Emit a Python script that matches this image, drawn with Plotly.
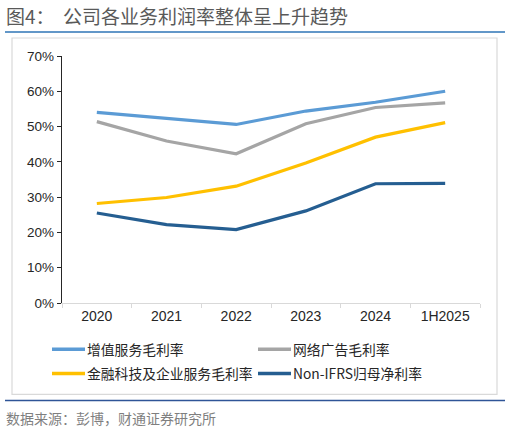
import plotly.graph_objects as go

# 年份
years = ["2020", "2021", "2022", "2023", "2024", "1H2025"]

# 各业务利润率
vas_gm = [0.540, 0.524, 0.506, 0.544, 0.569, 0.600]
ads_gm = [0.514, 0.459, 0.423, 0.508, 0.554, 0.567]
fin_gm = [0.282, 0.299, 0.331, 0.397, 0.470, 0.511]
nonifrs_nm = [0.255, 0.222, 0.208, 0.261, 0.338, 0.339]

series_names = ["增值服务毛利率", "网络广告毛利率", "金融科技及企业服务毛利率", "Non-IFRS归母净利率"]
series_colors = ["#5B9BD5", "#A5A5A5", "#FFC000", "#255E91"]

W, H = 510, 432
L, R, T, B = 62, 30, 56, 129.3
PW, PH = W - L - R, H - T - B


def px_x(v):
    return (v - L) / PW


def px_y(v):
    return (H - B - v) / PH


fig = go.Figure()

for name, vals, color in zip(series_names, [vas_gm, ads_gm, fin_gm, nonifrs_nm], series_colors):
    fig.add_trace(go.Scatter(x=years, y=vals, name=name, mode="lines",
                             line=dict(color=color, width=3.2), showlegend=False))

fig.update_layout(
    width=W, height=H,
    paper_bgcolor="white", plot_bgcolor="white",
    margin=dict(l=L, r=R, t=T, b=B),
    showlegend=False,
    font=dict(family="Arial, Liberation Sans", color="#262626"),
)

fig.update_xaxes(type="category", range=[-0.5, 5.5], showline=True, linecolor="#D9D9D9",
                 linewidth=1.2, ticks="outside", tickson="boundaries", ticklen=4,
                 tickcolor="#D9D9D9", showgrid=False, tickfont=dict(size=14, color="#262626"))
fig.update_yaxes(range=[0, 0.7], dtick=0.1, tickformat=".0%", showline=True,
                 linecolor="#262626", linewidth=1.4, ticks="outside", ticklen=4,
                 tickcolor="#262626", showgrid=False, zeroline=False,
                 tickfont=dict(size=13.5, color="#262626"))

# 手绘图例（两行两列）
legend_pos = [(52, 349), (258, 349), (52, 373), (258, 373)]
for (lx, ly), name, color in zip(legend_pos, series_names, series_colors):
    fig.add_shape(type="line", xref="paper", yref="paper", x0=px_x(lx), x1=px_x(lx + 33),
                  y0=px_y(ly), y1=px_y(ly), line=dict(color=color, width=3.5))
    fig.add_annotation(text=name, xref="paper", yref="paper", x=px_x(lx + 33), y=px_y(ly),
                       xanchor="left", yanchor="middle", showarrow=False,
                       font=dict(family="Noto Sans CJK SC, Arial", size=13.8, color="#262626"))

# 标题、边框、分隔线
fig.add_annotation(text="图4：  公司各业务利润率整体呈上升趋势", xref="paper", yref="paper",
                   x=px_x(4), y=px_y(16), xanchor="left", yanchor="middle",
                   showarrow=False, font=dict(family="Noto Sans CJK SC", size=19, color="#595959"))
fig.add_annotation(text="数据来源：彭博，财通证券研究所", xref="paper", yref="paper",
                   x=px_x(4), y=px_y(418), xanchor="left", yanchor="middle",
                   showarrow=False, font=dict(family="Noto Sans CJK SC", size=14, color="#7F7F7F"))

fig.add_shape(type="line", xref="paper", yref="paper", x0=px_x(5), x1=px_x(505),
              y0=px_y(32), y1=px_y(32), line=dict(color="#2E75B6", width=1.5))
fig.add_shape(type="line", xref="paper", yref="paper", x0=px_x(5), x1=px_x(505),
              y0=px_y(400), y1=px_y(400), line=dict(color="#2F5597", width=1.5))
fig.add_shape(type="rect", xref="paper", yref="paper", x0=px_x(12), x1=px_x(497),
              y0=px_y(394), y1=px_y(38), line=dict(color="#D9D9D9", width=1.2))

# 去掉页面默认的 8px 边距，使图与窗口对齐；隐藏工具栏
fig.write_html("out.html", config={"displayModeBar": False},
               post_script="document.body.style.margin='0';")
